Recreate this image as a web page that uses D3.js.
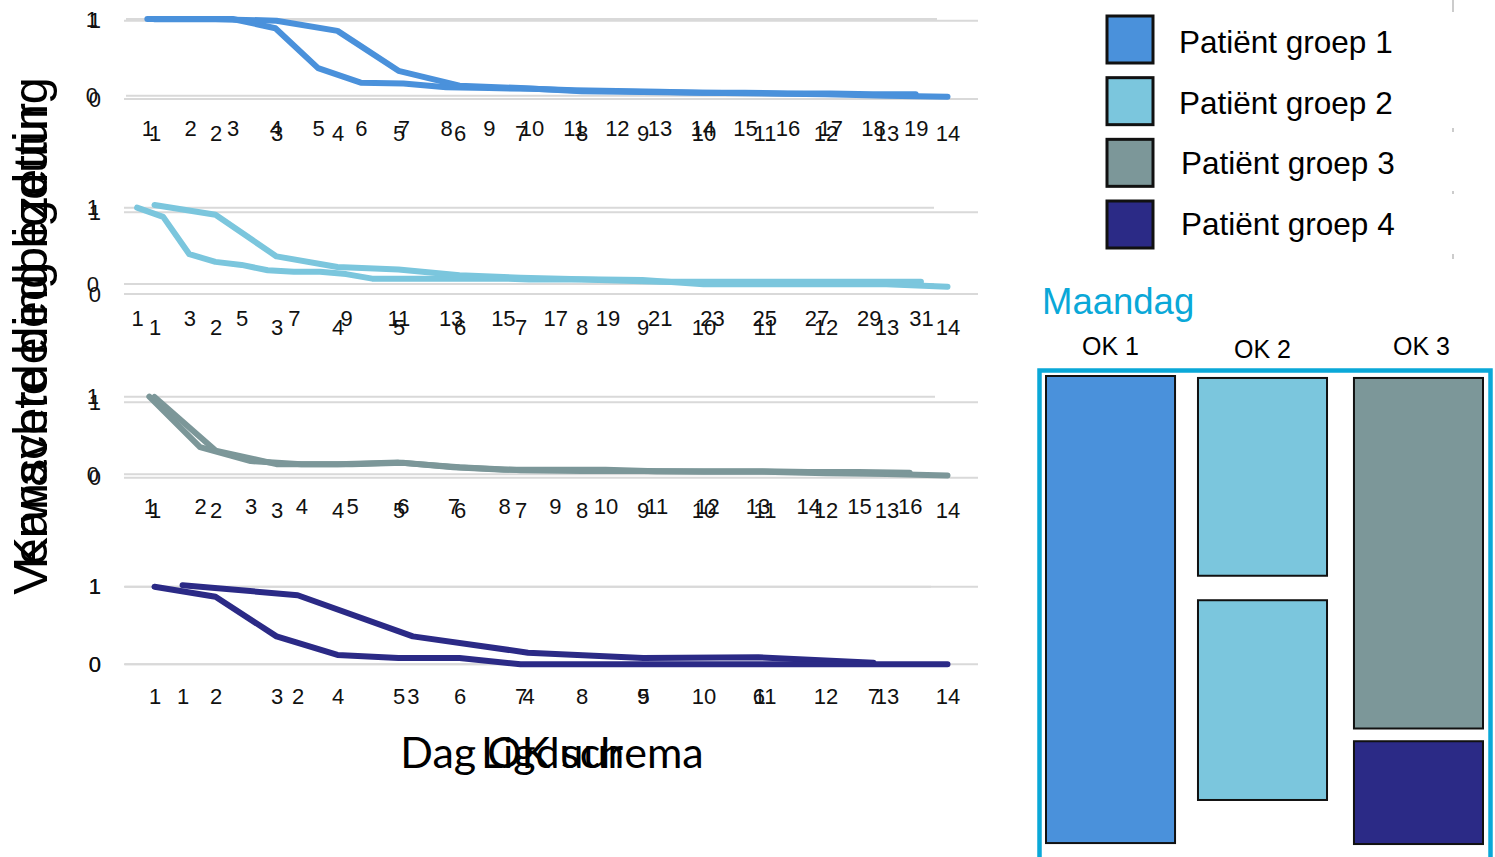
<!DOCTYPE html>
<html><head><meta charset="utf-8">
<script src="https://cdn.jsdelivr.net/npm/d3@7"></script>
<style>
body{margin:0;background:#fff;}
svg{display:block;font-family:"Liberation Sans",Arial,sans-serif;}
</style>
</head><body>
<script>
// ---------------- DATA ----------------
const groups = ["Patiënt groep 1","Patiënt groep 2","Patiënt groep 3","Patiënt groep 4"];
const groupColors = ["#4A91DB","#7BC6DD","#7C9799","#2B2A86"];
const yTickValues = [0, 1];

// Ligduur (length of stay) categories and probabilities per group
const ligdagen1 = [1,2,3,4,5,6,7,8,9,10,11,12,13,14,15,16,17,18,19];
const kans1 = [1,1,1,0.88,0.36,0.17,0.16,0.11,0.10,0.09,0.07,0.06,0.05,0.04,0.04,0.03,0.03,0.02,0.02];
const ligdagen2 = [1,2,3,4,5,6,7,8,9,10,11,12,13,14,15,16,17,18,19,20,21,22,23,24,25,26,27,28,29,30,31];
const kans2 = [1.0,0.88,0.39,0.29,0.25,0.18,0.16,0.16,0.13,0.07,0.07,0.07,0.07,0.07,0.07,0.06,0.06,0.06,0.05,0.04,0.03,0.03,0.03,0.03,0.03,0.03,0.03,0.03,0.03,0.03,0.03];
const ligdagen3 = [1,2,3,4,5,6,7,8,9,10,11,12,13,14,15,16];
const kans3 = [1.0,0.35,0.17,0.13,0.13,0.15,0.09,0.06,0.06,0.06,0.04,0.04,0.04,0.03,0.03,0.02];
const ligdagen4 = [1,2,3,4,5,6,7];
const kans4 = [1.02,0.89,0.36,0.15,0.08,0.09,0.02];

// Dag OK schema (14 days) and expected bed occupancy per group
const schemaDagen = [1,2,3,4,5,6,7,8,9,10,11,12,13,14];
const bezetting1 = [1.02,1.02,1.0,0.87,0.36,0.17,0.14,0.10,0.09,0.08,0.07,0.06,0.04,0.03];
const bezetting2 = [1.09,0.97,0.46,0.33,0.30,0.23,0.20,0.18,0.17,0.12,0.12,0.12,0.12,0.09];
const bezetting3 = [1.07,0.36,0.18,0.18,0.20,0.14,0.10,0.09,0.09,0.08,0.08,0.06,0.05,0.03];
const bezetting4 = [1.0,0.87,0.36,0.12,0.08,0.08,0.0,0.0,0.0,0.0,0.0,0.0,0.0,0.0];

const yTitles = ["Verwachte bedbezetting", "Kansverdeling ligduur"];
const xTitles = ["Dag OK schema", "Ligduur"];

// OK schedule for Monday (minutes of the day)
const dayTitle = "Maandag";
const okRooms = ["OK 1","OK 2","OK 3"];
const okBlocks = [
  {ok:"OK 1", group:0, start:0,   end:477},
  {ok:"OK 2", group:1, start:2,   end:204},
  {ok:"OK 2", group:1, start:229, end:433},
  {ok:"OK 3", group:2, start:2,   end:360},
  {ok:"OK 3", group:3, start:373, end:478}
];

// ---------------- LAYOUT ----------------
const W = 1495, H = 857;
const svg = d3.select("body").append("svg").attr("width", W).attr("height", H);

const ligSeries = [
  {cats: ligdagen1, vals: kans1}, {cats: ligdagen2, vals: kans2},
  {cats: ligdagen3, vals: kans3}, {cats: ligdagen4, vals: kans4}
];
const schemaSeries = [bezetting1, bezetting2, bezetting3, bezetting4];

// per panel layout: A = ligduur chart, B = schema chart
const panelLayout = [
  {A:{x:[126,937], y:[95.7,19],   lbl:128, yl:98},  B:{x:[124,978], y:[99,20.7],   lbl:133, yl:101}, skipA:1},
  {A:{x:[124,934], y:[284,207.7], lbl:318, yl:99},  B:{x:[124,978], y:[294,212.3], lbl:327, yl:101}, skipA:2},
  {A:{x:[124,935], y:[474.3,396.7], lbl:506, yl:99}, B:{x:[124,978], y:[477.7,402.3], lbl:510, yl:101}, skipA:1},
  {A:{x:[125,931], y:[664.3,586.7], lbl:696, yl:101}, B:{x:[124,978], y:[664.3,586.7], lbl:696, yl:101}, skipA:1}
];

const gridColor = "#D9D9D9";
const tickFont = 22;
const lineWidth = 6;

panelLayout.forEach((pl, i) => {
  const g = svg.append("g");
  const A = ligSeries[i];
  const xA = d3.scalePoint().domain(A.cats).range(pl.A.x).padding(0.5);
  const yA = d3.scaleLinear().domain([0,1]).range(pl.A.y);
  const xB = d3.scalePoint().domain(schemaDagen).range(pl.B.x).padding(0.5);
  const yB = d3.scaleLinear().domain([0,1]).range(pl.B.y);

  // gridlines
  [[yA, pl.A.x], [yB, pl.B.x]].forEach(([ys, xr]) => {
    g.selectAll(null).data(yTickValues).enter().append("line")
      .attr("x1", xr[0]).attr("x2", xr[1])
      .attr("y1", d => ys(d)).attr("y2", d => ys(d))
      .attr("stroke", gridColor).attr("stroke-width", 2);
  });

  // y tick labels
  [[yA, pl.A.yl], [yB, pl.B.yl]].forEach(([ys, xr]) => {
    g.selectAll(null).data(yTickValues).enter().append("text")
      .attr("x", xr).attr("y", d => ys(d))
      .attr("text-anchor", "end").attr("dominant-baseline", "central")
      .attr("font-size", tickFont).attr("fill", "#111")
      .text(d => d);
  });

  // lines
  const lineA = d3.line().x((d, j) => xA(A.cats[j])).y(d => yA(d));
  const lineB = d3.line().x((d, j) => xB(schemaDagen[j])).y(d => yB(d));
  g.append("path").attr("d", lineA(A.vals)).attr("fill", "none")
    .attr("stroke", groupColors[i]).attr("stroke-width", lineWidth)
    .attr("stroke-linejoin", "round").attr("stroke-linecap", "round");
  g.append("path").attr("d", lineB(schemaSeries[i])).attr("fill", "none")
    .attr("stroke", groupColors[i]).attr("stroke-width", lineWidth)
    .attr("stroke-linejoin", "round").attr("stroke-linecap", "round");

  // x tick labels
  const axA = d3.axisBottom(xA).tickSize(0).tickPadding(0)
    .tickValues(A.cats.filter((c, j) => j % pl.skipA === 0));
  const gA = g.append("g").attr("transform", `translate(0,${pl.A.lbl})`).call(axA);
  const axB = d3.axisBottom(xB).tickSize(0).tickPadding(0);
  const gB = g.append("g").attr("transform", `translate(0,${pl.B.lbl})`).call(axB);
  [gA, gB].forEach(ga => {
    ga.select(".domain").remove();
    ga.selectAll("text").attr("y", 0).attr("dy", null)
      .attr("dominant-baseline", "central")
      .attr("font-size", tickFont).attr("font-family", "'Liberation Sans',Arial,sans-serif")
      .attr("fill", "#111");
  });
});

// axis titles
yTitles.forEach(t => {
  svg.append("text")
    .attr("transform", "translate(47,336) rotate(-90)")
    .attr("text-anchor", "middle")
    .attr("font-size", 48.5).attr("fill", "#000")
    .text(t);
});
xTitles.forEach(t => {
  svg.append("text")
    .attr("x", 552).attr("y", 768)
    .attr("text-anchor", "middle")
    .attr("font-family", "Lato, 'Open Sans', sans-serif")
    .attr("font-size", 43).attr("fill", "#000")
    .text(t);
});

// ---------------- LEGEND ----------------
const legendY = d3.scalePoint().domain(groups).range([39.5, 224.5]);
const legendTextY = d3.scalePoint().domain(groups).range([53, 235]);
const leg = svg.append("g");
leg.selectAll("rect").data(groups).enter().append("rect")
  .attr("x", 1107).attr("y", d => legendY(d) - 23.5)
  .attr("width", 46).attr("height", 47)
  .attr("fill", (d, i) => groupColors[i])
  .attr("stroke", "#111").attr("stroke-width", 3);
leg.selectAll("text").data(groups).enter().append("text")
  .attr("x", (d, i) => i < 2 ? 1179 : 1181)
  .attr("y", d => legendTextY(d))
  .attr("font-size", 31.5).attr("fill", "#000")
  .text(d => d);
// small grey marks at the right edge
leg.selectAll("line.mark").data([[0,12],[128,132],[191,194],[254,259]]).enter().append("line")
  .attr("x1", 1453).attr("x2", 1453).attr("y1", d => d[0]).attr("y2", d => d[1])
  .attr("stroke", "#BBBBBB").attr("stroke-width", 1.5);

// ---------------- OK SCHEDULE ----------------
svg.append("text").attr("x", 1042).attr("y", 314)
  .attr("font-size", 36.5).attr("fill", "#0AA8D8").text(dayTitle);

const xOK = d3.scaleBand().domain(okRooms).range([1046, 1483]).paddingInner(0.162).paddingOuter(0);
const yOK = d3.scaleLinear().domain([0, 480]).range([376, 846]);
const okLabelY = {"OK 1":355, "OK 2":358, "OK 3":355};
svg.selectAll("text.ok").data(okRooms).enter().append("text")
  .attr("x", d => xOK(d) + xOK.bandwidth()/2 + (d === "OK 3" ? 3 : (d === "OK 2" ? -2 : 0)))
  .attr("y", d => okLabelY[d])
  .attr("text-anchor", "middle").attr("font-size", 25).attr("fill", "#000")
  .text(d => d);

svg.append("rect").attr("x", 1039.5).attr("y", 370.5)
  .attr("width", 451).attr("height", 490)
  .attr("fill", "none").attr("stroke", "#0AA8D8").attr("stroke-width", 4.5);

svg.selectAll("rect.blk").data(okBlocks).enter().append("rect")
  .attr("x", d => xOK(d.ok) - (d.ok === "OK 2" ? 2 : 0)).attr("y", d => yOK(d.start))
  .attr("width", xOK.bandwidth()).attr("height", d => yOK(d.end) - yOK(d.start))
  .attr("fill", d => groupColors[d.group])
  .attr("stroke", "#111").attr("stroke-width", 2);
</script>
</body></html>
